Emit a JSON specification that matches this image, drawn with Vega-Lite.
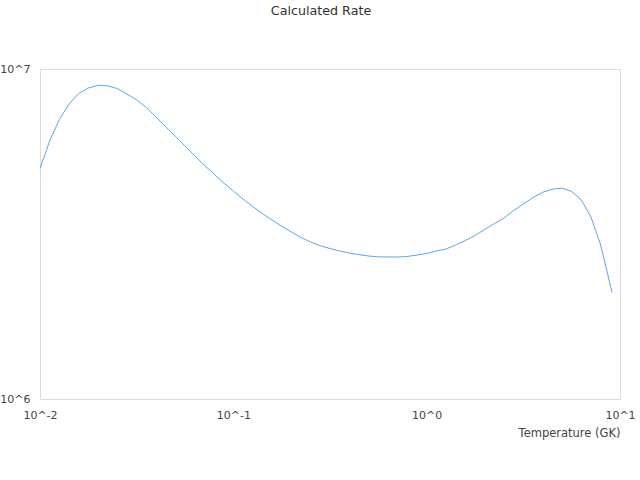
{
  "$schema": "https://vega.github.io/schema/vega-lite/v6.json",
  "autosize": {"type": "none"},
  "width": 580,
  "height": 330,
  "padding": {"left": 40, "top": 69, "right": 20, "bottom": 81},
  "title": {
    "text": "Calculated Rate",
    "font": "DejaVu Sans",
    "fontSize": 12.7,
    "fontWeight": "normal",
    "color": "#333",
    "anchor": "middle",
    "dx": -9,
    "offset": 45
  },
  "config": {
    "view": {"stroke": "#dcdcdc"},
    "axis": {
      "domain": false,
      "ticks": false,
      "grid": false,
      "labelFont": "DejaVu Sans",
      "labelFontSize": 11,
      "labelColor": "#444",
      "labelFlush": false,
      "labelBound": false,
      "labelOverlap": false,
      "titleFont": "DejaVu Sans",
      "titleFontSize": 11.5,
      "titleFontWeight": "normal",
      "titleColor": "#444"
    }
  },
  "data": {
    "values": [
      {"T": 0.01, "rate": 4995000},
      {"T": 0.01122, "rate": 6050000},
      {"T": 0.01259, "rate": 7029000},
      {"T": 0.01413, "rate": 7832000},
      {"T": 0.01585, "rate": 8429000},
      {"T": 0.01778, "rate": 8757000},
      {"T": 0.01995, "rate": 8926000},
      {"T": 0.02239, "rate": 8893000},
      {"T": 0.02512, "rate": 8727000},
      {"T": 0.02818, "rate": 8400000},
      {"T": 0.03162, "rate": 8055000},
      {"T": 0.03548, "rate": 7644000},
      {"T": 0.03981, "rate": 7153000},
      {"T": 0.04467, "rate": 6686000},
      {"T": 0.05012, "rate": 6252000},
      {"T": 0.05623, "rate": 5843000},
      {"T": 0.0631, "rate": 5462000},
      {"T": 0.07079, "rate": 5108000},
      {"T": 0.07943, "rate": 4806000},
      {"T": 0.08913, "rate": 4514000},
      {"T": 0.1, "rate": 4269000},
      {"T": 0.1122, "rate": 4037000},
      {"T": 0.1259, "rate": 3831000},
      {"T": 0.1413, "rate": 3648000},
      {"T": 0.1585, "rate": 3486000},
      {"T": 0.1778, "rate": 3343000},
      {"T": 0.1995, "rate": 3206000},
      {"T": 0.2239, "rate": 3086000},
      {"T": 0.2512, "rate": 2990000},
      {"T": 0.2818, "rate": 2912000},
      {"T": 0.3162, "rate": 2858000},
      {"T": 0.3548, "rate": 2808000},
      {"T": 0.3981, "rate": 2769000},
      {"T": 0.4467, "rate": 2737000},
      {"T": 0.5012, "rate": 2712000},
      {"T": 0.5623, "rate": 2697000},
      {"T": 0.631, "rate": 2693000},
      {"T": 0.7079, "rate": 2693000},
      {"T": 0.7943, "rate": 2703000},
      {"T": 0.8913, "rate": 2731000},
      {"T": 1, "rate": 2760000},
      {"T": 1.122, "rate": 2808000},
      {"T": 1.259, "rate": 2848000},
      {"T": 1.413, "rate": 2929000},
      {"T": 1.585, "rate": 3022000},
      {"T": 1.778, "rate": 3129000},
      {"T": 1.995, "rate": 3263000},
      {"T": 2.239, "rate": 3402000},
      {"T": 2.512, "rate": 3535000},
      {"T": 2.818, "rate": 3725000},
      {"T": 3.162, "rate": 3898000},
      {"T": 3.548, "rate": 4080000},
      {"T": 3.981, "rate": 4230000},
      {"T": 4.467, "rate": 4323000},
      {"T": 5.012, "rate": 4359000},
      {"T": 5.623, "rate": 4254000},
      {"T": 6.31, "rate": 4009000},
      {"T": 7.079, "rate": 3560000},
      {"T": 7.943, "rate": 2929000},
      {"T": 9.1, "rate": 2100000}
    ]
  },
  "mark": {"type": "line", "color": "#5aa5ef", "strokeWidth": 1},
  "encoding": {
    "x": {
      "field": "T",
      "type": "quantitative",
      "scale": {"type": "log", "domain": [0.01, 10], "nice": false},
      "axis": {
        "values": [0.01, 0.1, 1, 10],
        "labelExpr": "'10^' + round(log(datum.value) / LN10)",
        "labelPadding": 10,
        "title": "Temperature (GK)",
        "titleAnchor": "end",
        "titleAlign": "right",
        "titlePadding": 7
      }
    },
    "y": {
      "field": "rate",
      "type": "quantitative",
      "scale": {"type": "log", "domain": [1000000, 10000000], "nice": false},
      "axis": {
        "values": [1000000, 10000000],
        "labelExpr": "'10^' + round(log(datum.value) / LN10)",
        "labelPadding": 10,
        "title": null
      }
    }
  }
}
